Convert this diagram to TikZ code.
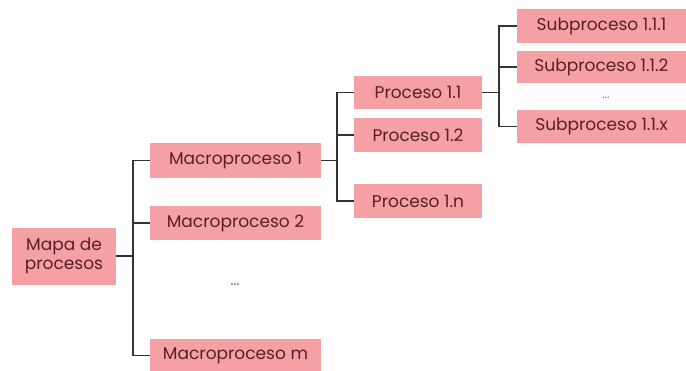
\documentclass[tikz,border=0pt]{standalone}
\usepackage{fontspec}
\setmainfont{Poppins}
\definecolor{boxfill}{HTML}{F4A0A4}
\definecolor{boxtext}{HTML}{5A1E28}
\definecolor{linecol}{HTML}{333333}
\begin{document}
\begin{tikzpicture}[x=1pt,y=-1pt,
  pbox/.style={rectangle,fill=boxfill,text=boxtext,inner sep=0pt,font=\fontsize{17}{19.5}\selectfont},
  dotsnode/.style={text=gray,inner sep=0pt},
  conn/.style={draw=linecol,line width=1.1pt}]
\useasboundingbox (0,0) rectangle (686,370);
\fill[white] (0,0) rectangle (686,370);
% nodes
\node[pbox,minimum width=104pt,minimum height=57pt,align=center] (map) at (64,256) {Mapa de\\procesos};
\node[pbox,minimum width=171pt,minimum height=35pt] (m1) at (235.5,160.5) {Macroproceso 1};
\node[pbox,minimum width=171pt,minimum height=34pt] (m2) at (235.5,223) {Macroproceso 2};
\node[dotsnode,font=\fontsize{16}{18}\selectfont] (d1) at (235,285) {\ldots};
\node[pbox,minimum width=171pt,minimum height=33pt] (mm) at (235.5,355.5) {Macroproceso m};
\node[pbox,minimum width=128pt,minimum height=33pt] (p1) at (418,92.5) {Proceso 1.1};
\node[pbox,minimum width=128pt,minimum height=34pt] (p2) at (418,135) {Proceso 1.2};
\node[pbox,minimum width=128pt,minimum height=34pt] (pn) at (418,201) {Proceso 1.n};
\node[pbox,minimum width=169pt,minimum height=34pt] (s1) at (601.5,26) {Subproceso 1.1.1};
\node[pbox,minimum width=169pt,minimum height=32pt] (s2) at (601.5,67) {Subproceso 1.1.2};
\node[dotsnode,font=\fontsize{13}{15}\selectfont] (d2) at (606,98) {\ldots};
\node[pbox,minimum width=169pt,minimum height=33pt] (sx) at (601.5,126.5) {Subproceso 1.1.x};
% bus coordinates
\coordinate (b1) at (133,0);
\coordinate (b2) at (337,0);
\coordinate (b3) at (499,0);
% connectors
\draw[conn] (map.east) -- (map.east -| b1);
\draw[conn] (m1.west) -- (m1.west -| b1) -- (mm.west -| b1) -- (mm.west);
\draw[conn] (m2.west) -- (m2.west -| b1);
\draw[conn] (m1.east) -- (m1.east -| b2);
\draw[conn] (p1.west) -- (p1.west -| b2) -- (pn.west -| b2) -- (pn.west);
\draw[conn] (p2.west) -- (p2.west -| b2);
\draw[conn] (p1.east) -- (p1.east -| b3);
\draw[conn] (s1.west) -- (s1.west -| b3) -- (sx.west -| b3) -- (sx.west);
\draw[conn] (s2.west) -- (s2.west -| b3);
\end{tikzpicture}
\end{document}
